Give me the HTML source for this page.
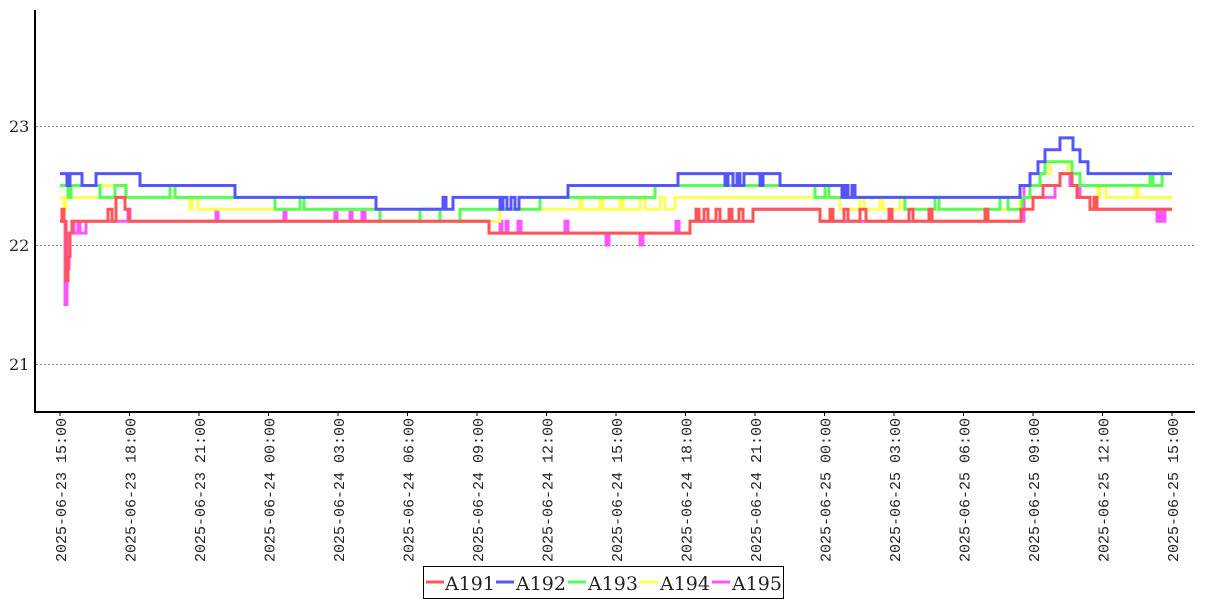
<!DOCTYPE html>
<html><head><meta charset="utf-8"><style>
body{margin:0;background:#fff;width:1207px;height:600px;overflow:hidden}
svg{display:block}
text{font-family:"DejaVu Serif","Liberation Serif",serif;fill:#222}
.t{font-family:"Liberation Mono",monospace;font-size:15px}
polyline{fill:none;stroke-width:3;stroke-linejoin:miter}
</style></head><body>
<svg width="1207" height="600" viewBox="0 0 1207 600">
<g stroke="#888" stroke-dasharray="2,2" stroke-width="1">
<line x1="36" y1="126.5" x2="1195" y2="126.5"/>
<line x1="36" y1="245.5" x2="1195" y2="245.5"/>
<line x1="36" y1="364.5" x2="1195" y2="364.5"/>
</g>
<text x="9" y="132" font-size="16">23</text>
<text x="9" y="251" font-size="16">22</text>
<text x="9" y="370" font-size="16">21</text>
<line x1="35" y1="10" x2="35" y2="412" stroke="#000" stroke-width="2"/>
<line x1="34" y1="412" x2="1195" y2="412" stroke="#000" stroke-width="2"/>
<g id="ticks" stroke="#000"></g>
<g id="series"></g>
<rect x="423.5" y="566.5" width="360" height="32" fill="#fff" stroke="#000"/>
<g stroke-width="3">
<line x1="426" y1="582" x2="444" y2="582" stroke="#f55"/>
<line x1="496" y1="582" x2="514" y2="582" stroke="#55f"/>
<line x1="568" y1="582" x2="586" y2="582" stroke="#5f5"/>
<line x1="640" y1="582" x2="658" y2="582" stroke="#ff5"/>
<line x1="712" y1="582" x2="730" y2="582" stroke="#f5f"/>
</g>
<g font-size="19">
<text x="445" y="590">A191</text>
<text x="516" y="590">A192</text>
<text x="588" y="590">A193</text>
<text x="660" y="590">A194</text>
<text x="732" y="590">A195</text>
</g>
<g id="labels"></g>
</svg>
<script>
var ns="http://www.w3.org/2000/svg";
var labs=["2025-06-23 15:00","2025-06-23 18:00","2025-06-23 21:00","2025-06-24 00:00","2025-06-24 03:00","2025-06-24 06:00","2025-06-24 09:00","2025-06-24 12:00","2025-06-24 15:00","2025-06-24 18:00","2025-06-24 21:00","2025-06-25 00:00","2025-06-25 03:00","2025-06-25 06:00","2025-06-25 09:00","2025-06-25 12:00","2025-06-25 15:00"];
var g=document.getElementById("labels"),t=document.getElementById("ticks");
for(var i=0;i<labs.length;i++){var x=60+i*(1172-60)/16;
var l=document.createElementNS(ns,"line");l.setAttribute("x1",x);l.setAttribute("x2",x);l.setAttribute("y1",412);l.setAttribute("y2",416);t.appendChild(l);
var e=document.createElementNS(ns,"text");e.setAttribute("class","t");e.setAttribute("transform","translate("+(x+6)+",418) rotate(-90)");e.setAttribute("text-anchor","end");e.textContent=labs[i];g.appendChild(e);}
function Y(v){return (245-(v-22)*119).toFixed(1);}
function step(d){var p=[];for(var i=0;i<d.length;i+=2){var x=d[i],v=d[i+1],nx=(i+2<d.length)?d[i+2]:1172;p.push(x+","+Y(v));p.push(nx+","+Y(v));}return p.join(" ");}
var S=[
["#f5f",[60,22.2,65,21.5,67,21.8,69,22.1,72,22.2,74,22.1,78,22.2,80,22.1,86,22.2,128,22.3,130,22.2,216,22.3,218,22.2,284,22.3,286,22.2,335,22.3,337,22.2,350,22.3,352,22.2,362,22.3,365,22.2,489,22.1,500,22.2,502,22.1,506,22.2,508,22.1,518,22.2,521,22.1,565,22.2,568,22.1,606,22.0,609,22.1,640,22.0,643,22.1,676,22.2,679,22.1,690,22.2,753,22.3,820,22.2,1024,22.5,1030,22.4,1040,22.4,1055,22.5,1060,22.6,1070,22.5,1080,22.4,1090,22.3,1157,22.2,1160,22.3,1162,22.2,1165,22.3]],
["#ff5",[60,22.4,64,22.3,66,22.4,100,22.5,115,22.4,190,22.3,192,22.4,198,22.3,380,22.2,500,22.3,580,22.4,582,22.3,600,22.4,603,22.3,620,22.4,623,22.3,640,22.4,645,22.3,660,22.4,665,22.3,675,22.4,840,22.3,860,22.4,864,22.3,880,22.4,883,22.3,900,22.4,904,22.3,1020,22.4,1030,22.5,1040,22.6,1050,22.7,1068,22.6,1080,22.5,1098,22.4,1100,22.5,1106,22.4,1136,22.5,1138,22.4]],
["#5f5",[60,22.5,68,22.4,71,22.5,100,22.4,115,22.5,126,22.4,170,22.5,175,22.4,275,22.3,300,22.4,304,22.3,380,22.2,420,22.3,440,22.2,460,22.3,540,22.4,655,22.5,815,22.4,825,22.5,829,22.4,905,22.3,935,22.4,939,22.3,1000,22.4,1008,22.3,1022,22.4,1030,22.5,1040,22.6,1045,22.7,1072,22.6,1080,22.5,1150,22.6,1153,22.5,1162,22.6]],
["#55f",[60,22.6,67,22.5,70,22.6,82,22.5,96,22.6,140,22.5,235,22.4,376,22.3,443,22.4,446,22.3,453,22.4,500,22.3,503,22.4,507,22.3,511,22.4,515,22.3,519,22.4,568,22.5,678,22.6,725,22.5,728,22.6,733,22.5,737,22.6,740,22.5,744,22.6,760,22.5,763,22.6,780,22.5,842,22.4,845,22.5,848,22.4,852,22.5,855,22.4,1020,22.5,1030,22.6,1038,22.7,1045,22.8,1060,22.9,1073,22.8,1080,22.7,1088,22.6]],
["#f55",[60,22.2,62,22.3,64,22.2,66,21.7,68,21.9,70,22.1,72,22.2,108,22.3,112,22.2,116,22.4,125,22.3,129,22.2,489,22.1,690,22.2,696,22.3,699,22.2,704,22.3,708,22.2,716,22.3,720,22.2,729,22.3,732,22.2,739,22.3,743,22.2,753,22.3,820,22.2,830,22.3,833,22.2,844,22.3,848,22.2,860,22.3,866,22.2,889,22.3,892,22.2,909,22.3,913,22.2,929,22.3,932,22.2,985,22.3,988,22.2,1021,22.3,1033,22.4,1043,22.5,1060,22.6,1072,22.5,1077,22.4,1090,22.3,1094,22.4,1097,22.3]]
];
var sg=document.getElementById("series");
S.forEach(function(s){var p=document.createElementNS(ns,"polyline");p.setAttribute("stroke",s[0]);p.setAttribute("points",step(s[1]));sg.appendChild(p);});
</script>
</body></html>
